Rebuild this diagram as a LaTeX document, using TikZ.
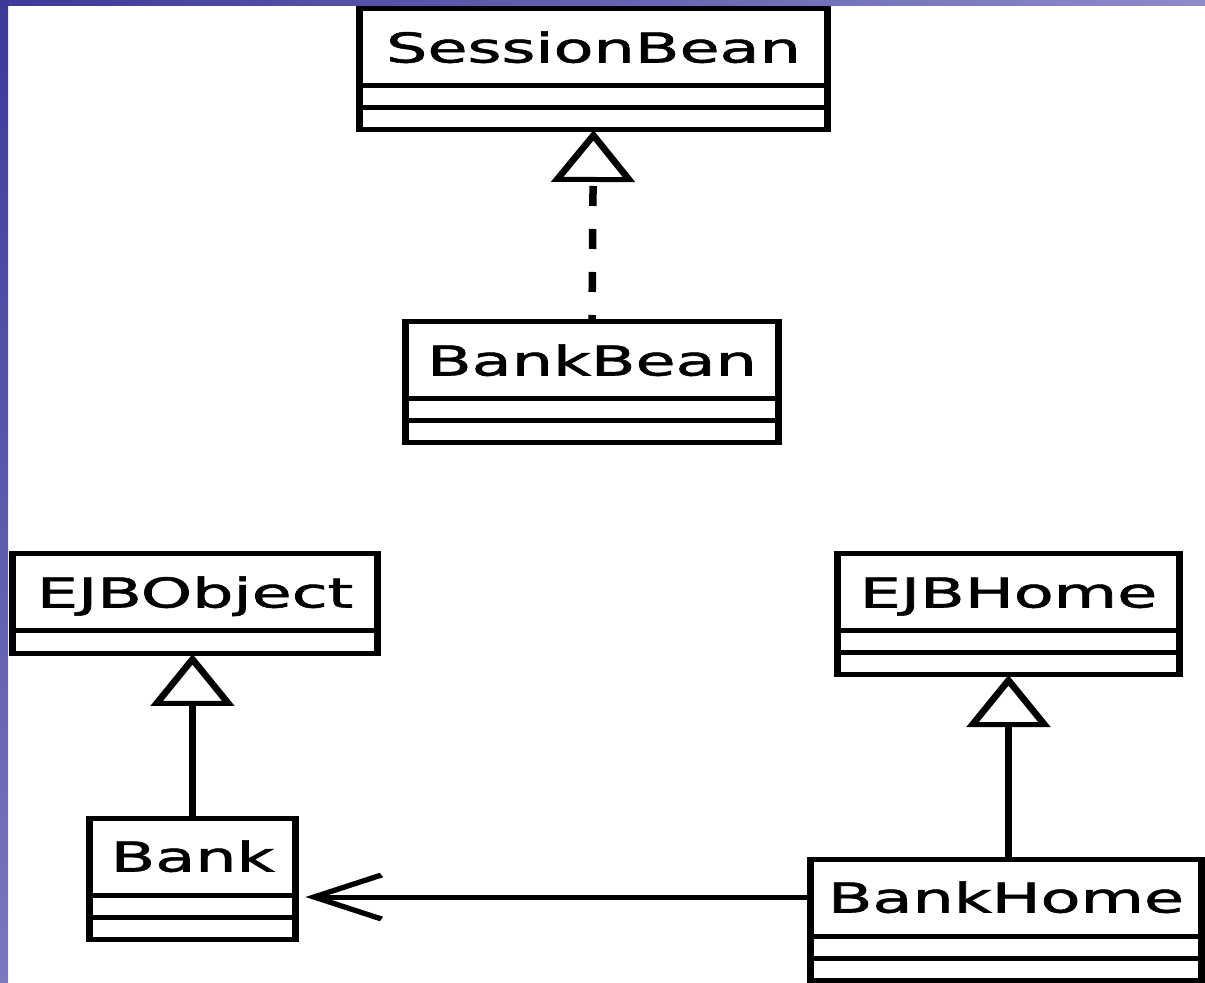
\documentclass[tikz,border=0pt]{standalone}
\usepackage{fontspec}
\usetikzlibrary{shapes.multipart,arrows.meta}
\newfontfamily\umlfont{DejaVu Sans}[FakeStretch=1.06,FakeBold=1.3]
\definecolor{slidedark}{HTML}{3B3A99}
\definecolor{slidelight}{HTML}{8E8BCB}
\definecolor{slideside}{HTML}{7B78C0}
\newcommand{\clsname}[1]{\rule[-10.5pt]{0pt}{36pt}#1}
\newcommand{\clspart}{\rule{0pt}{8.5pt}}

\begin{document}
\begin{tikzpicture}[x=0.5pt,y=-0.5pt]
    \useasboundingbox (0,0) rectangle (1205,983);
    \shade[left color=slidedark, right color=slidelight] (0,0) rectangle (1205,6);
    \shade[top color=slidedark, bottom color=slideside] (0,0) rectangle (8,983);
    \begin{scope}[transform canvas={xscale=1.5}, x=0.33333pt,
        cls/.style={draw, line width=2.5pt, rectangle split, rectangle split parts=#1,
            inner xsep=0pt, inner ysep=0pt, outer sep=0pt, anchor=north,
            font=\umlfont\fontsize{20.5pt}{24pt}\selectfont},
        gen/.style={line width=2.5pt, -{Triangle[open, length=26pt, width=27.5pt, fill=white]}},
        real/.style={gen, dash pattern=on 10pt off 11.5pt, dash phase=6.5pt},
        dep/.style={line width=2.5pt, -{Straight Barb[length=22.5pt, width=22pt]}, shorten >=3.3pt}]
    \node[cls=3, minimum width=156pt] (sb) at (593.5,9) {\clsname{SessionBean} \nodepart{two}\clspart \nodepart{three}\clspart};
    \node[cls=3, minimum width=124.3pt] (bb) at (592,322) {\clsname{BankBean} \nodepart{two}\clspart \nodepart{three}\clspart};
    \node[cls=2, minimum width=121.7pt] (eo) at (195,554) {\clsname{EJBObject} \nodepart{two}\rule{0pt}{9pt}};
    \node[cls=3, minimum width=114pt] (eh) at (1008.5,554) {\clsname{EJBHome} \nodepart{two}\clspart \nodepart{three}\clspart};
    \node[cls=3, minimum width=68.7pt] (bk) at (192.5,818) {\clsname{Bank} \nodepart{two}\clspart \nodepart{three}\clspart};
    \node[cls=3, minimum width=130.2pt] (bh) at (1006,859) {\clsname{BankHome} \nodepart{two}\clspart \nodepart{three}\clspart};
    \coordinate (bhrow) at ([yshift=-19pt]bh.north west);
    \draw[real] (bb.north) -- (sb.south);
    \draw[gen] (bk.north) -- (bk.north |- eo.south);
    \draw[gen] (eh.south |- bh.north) -- (eh.south);
    \draw[dep] (bhrow) -- (bhrow -| bk.east);
    \end{scope}
\end{tikzpicture}
\end{document}
